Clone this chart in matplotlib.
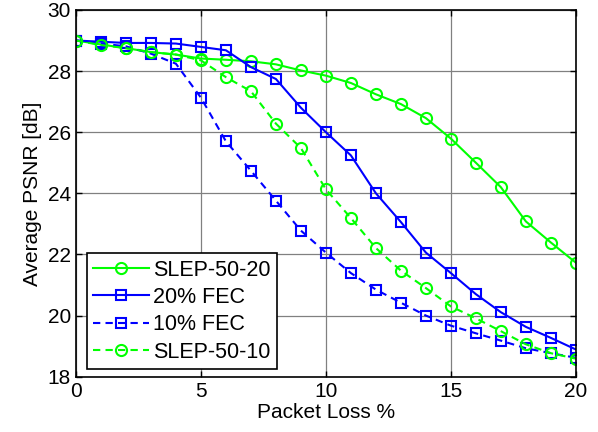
import matplotlib
matplotlib.use("Agg")
import matplotlib.pyplot as plt
import numpy as np

plt.rcParams['font.family'] = ['Liberation Sans', 'DejaVu Sans']

loss = list(range(0, 21))
slep_50_20 = [29.0, 28.87, 28.75, 28.62, 28.54, 28.41, 28.37, 28.32, 28.22, 28.02, 27.85,
              27.61, 27.24, 26.92, 26.46, 25.79, 25.0, 24.2, 23.08, 22.39, 21.73]
fec_20 = [29.0, 28.96, 28.92, 28.92, 28.9, 28.79, 28.68, 28.13, 27.74, 26.8, 26.0,
          25.24, 24.0, 23.06, 22.06, 21.39, 20.7, 20.11, 19.63, 19.27, 18.89]
fec_10 = [29.0, 28.9, 28.81, 28.57, 28.24, 27.13, 25.7, 24.74, 23.76, 22.78, 22.06,
          21.39, 20.85, 20.42, 20.0, 19.67, 19.42, 19.18, 18.93, 18.77, 18.62]
slep_50_10 = [29.0, 28.85, 28.75, 28.62, 28.54, 28.35, 27.8, 27.34, 26.28, 25.48, 24.13,
              23.19, 22.21, 21.47, 20.9, 20.3, 19.91, 19.49, 19.06, 18.77, 18.59]

labels = ['SLEP-50-20', '20% FEC', '10% FEC', 'SLEP-50-10']
xticks = [0, 5, 10, 15, 20]
yticks = [18, 20, 22, 24, 26, 28, 30]

fig = plt.figure(figsize=(5.98, 4.32), dpi=100)
ax = fig.add_axes([0.127, 0.128, 0.836, 0.849])

green = (0, 1, 0)
blue = (0, 0, 1)
kw = dict(lw=1.5, markersize=8, markeredgewidth=1.5, markerfacecolor='none')
ax.plot(loss, slep_50_20, '-', color=green, marker='o', label=labels[0], **kw)
ax.plot(loss, fec_20, '-', color=blue, marker='s', label=labels[1],
        lw=1.5, markersize=7, markeredgewidth=1.5, markerfacecolor='none')
ax.plot(loss, fec_10, '--', color=blue, marker='s', label=labels[2],
        lw=1.5, markersize=7, markeredgewidth=1.5, markerfacecolor='none', dashes=(3.5, 2.5))
ax.plot(loss, slep_50_10, '--', color=green, marker='o', label=labels[3], dashes=(3.5, 2.5), **kw)

ax.set_xlim(0, 20)
ax.set_ylim(18, 30)
ax.set_xticks(xticks)
ax.set_yticks(yticks)
ax.grid(True, color='#808080', lw=0.9)
ax.set_axisbelow(True)
ax.tick_params(direction='in', top=True, right=True, labelsize=15, length=4, width=1)
for s in ax.spines.values():
    s.set_linewidth(1.2)
ax.set_xlabel('Packet Loss %', fontsize=15, labelpad=2)
ax.set_ylabel('Average PSNR [dB]', fontsize=15, labelpad=4)

leg = ax.legend(loc='lower left', bbox_to_anchor=(0.022, 0.02), fontsize=15.5,
                fancybox=False, framealpha=1, edgecolor='black', handlelength=2.6,
                borderpad=0.3, labelspacing=0.3, handletextpad=0.15, borderaxespad=0)
leg.get_frame().set_linewidth(1.2)

fig.savefig('out.png', dpi=100)
